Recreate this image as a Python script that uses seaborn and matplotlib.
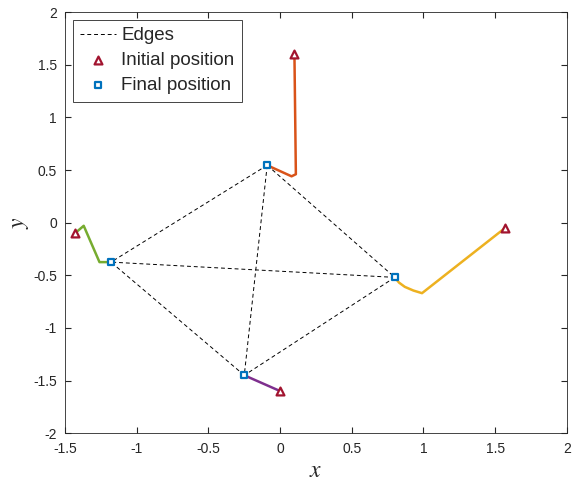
import numpy as np
import pandas as pd
import matplotlib
matplotlib.use("Agg")
import matplotlib.pyplot as plt
import seaborn as sns
from itertools import combinations

# trajectories of the four agents (initial point first, final point last)
orange_x = [0.10, 0.11, 0.08, -0.09]
orange_y = [1.60, 0.46, 0.44, 0.545]
green_x = [-1.43, -1.37, -1.26, -1.18]
green_y = [-0.10, -0.03, -0.375, -0.375]
yellow_x = [1.57, 0.99, 0.93, 0.87, 0.83, 0.80]
yellow_y = [-0.05, -0.67, -0.645, -0.61, -0.57, -0.52]
purple_x = [0.00, -0.25]
purple_y = [-1.60, -1.45]

paths = [
    ("orange", orange_x, orange_y, "#D95319"),
    ("yellow", yellow_x, yellow_y, "#EDB120"),
    ("purple", purple_x, purple_y, "#7E2F8E"),
    ("green", green_x, green_y, "#77AC30"),
]

sns.set_style("white")
plt.rcParams["font.family"] = ["Liberation Sans", "DejaVu Sans"]
plt.rcParams["mathtext.fontset"] = "stix"

fig = plt.figure(figsize=(5.76, 4.84), dpi=100)
ax = fig.add_axes([0.113, 0.105, 0.871, 0.870])

for name, xs, ys, col in paths:
    df = pd.DataFrame({"x": xs, "y": ys})
    sns.lineplot(data=df, x="x", y="y", sort=False, estimator=None,
                 color=col, linewidth=1.8, ax=ax)

init = pd.DataFrame({"x": [p[1][0] for p in paths], "y": [p[2][0] for p in paths]})
final = pd.DataFrame({"x": [p[1][-1] for p in paths], "y": [p[2][-1] for p in paths]})

# edges between all final positions
first = True
for i, j in combinations(range(len(final)), 2):
    ax.plot([final.x[i], final.x[j]], [final.y[i], final.y[j]], "--", color="black",
            linewidth=0.7, label="Edges" if first else None, dashes=(4, 3))
    first = False

sns.scatterplot(data=init, x="x", y="y", marker="^", s=32, facecolor="white",
                edgecolor="#A2142F", linewidth=1.6, label="Initial position", ax=ax, zorder=5)
sns.scatterplot(data=final, x="x", y="y", marker="s", s=24, facecolor="white",
                edgecolor="#0072BD", linewidth=1.6, label="Final position", ax=ax, zorder=5)

ax.set_xlim(-1.5, 2)
ax.set_ylim(-2, 2)
ax.set_xticks(np.arange(-1.5, 2.01, 0.5))
ax.set_yticks(np.arange(-2, 2.01, 0.5))
fmt = lambda v, p: ("%g" % v)
ax.xaxis.set_major_formatter(plt.FuncFormatter(fmt))
ax.yaxis.set_major_formatter(plt.FuncFormatter(fmt))
ax.tick_params(direction="in", length=4, labelsize=10, top=True, right=True,
               bottom=True, left=True, color="#262626", pad=6)
for s in ax.spines.values():
    s.set_color("#262626")
    s.set_linewidth(0.6)
ax.set_xlabel("$x$", fontsize=17, labelpad=3)
ax.set_ylabel("$y$", fontsize=17, labelpad=1)

leg = ax.legend(loc="upper left", fontsize=13.5, fancybox=False, framealpha=1,
                edgecolor="#262626", handlelength=1.9, borderaxespad=0.4,
                handletextpad=0.3, labelspacing=0.42, borderpad=0.4)
leg.get_frame().set_linewidth(0.6)

fig.savefig("out.png", dpi=100)
